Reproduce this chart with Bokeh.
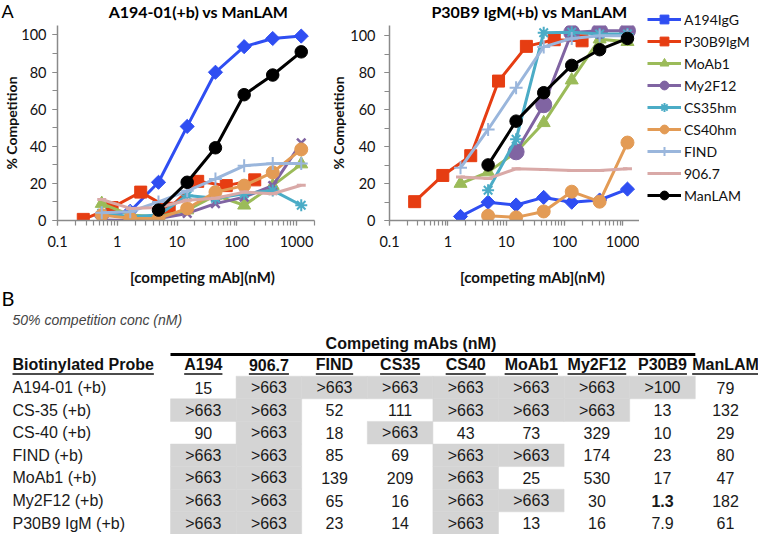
import math
from bokeh.plotting import figure
from bokeh.models import Range1d, FixedTicker, Legend, LegendItem, ColumnDataSource
from bokeh.layouts import column, row
from bokeh.embed import file_html
from bokeh.resources import INLINE
from bokeh.core.properties import value

NaN = float("nan")

# ---------------- data ----------------
series_names = ["A194IgG", "P30B9IgM", "MoAb1", "My2F12", "CS35hm", "CS40hm", "FIND", "906.7", "ManLAM"]

conc_dil = [0.55, 1.65, 4.9, 14.8, 44, 133, 400, 1200]       # nM, 3-fold dilutions
conc_p30 = [0.27, 0.82, 2.47, 7.4, 22.2, 66.7, 200]           # nM, P30B9IgM dilutions

# Panel A left: A194-01(+b) vs ManLAM  (% competition)
left_A194IgG = [2, 5, 20.6, 50.7, 79.9, 93.7, 98.1, 99.4]
left_P30B9IgM = [0.6, 7, 15.3, 6.6, 21.1, 18.8, 21.9]
left_MoAb1 = [9.1, 3, 2, 5.6, 13.5, 8.2, 18.8, 30.4]
left_My2F12 = [0.3, 0, 1, 3.8, 9.1, 12.6, 18.8, 41.8]
left_CS35hm = [4, 2, 3, 13.5, 12, 14.4, 16.2, 8.2]
left_CS40hm = [2.9, 1.2, 1, 6.5, 15.3, 18.8, 25.9, 38.3]
left_FIND = [4.2, 4.7, 10, 16, 22.4, 29.5, 30.7, 30.7]
left_9067 = [11.3, 6.5, 7, 10.9, 12, 15.3, 14.4, 19]
left_ManLAM = [NaN, NaN, 5.6, 20.6, 39.2, 67.8, 78.4, 90.9]

# Panel A right: P30B9 IgM(+b) vs ManLAM  (% competition)
right_A194IgG = [NaN, 2.2, 9.9, 8.4, 12.5, 9.9, 11.1, 17]
right_P30B9IgM = [10.2, 24.4, 35.1, 75.5, 94.3, 97.9, 97.3]
right_MoAb1 = [NaN, 20, 26.2, 37, 52.9, 76, 98.2, 96.8]
right_My2F12 = [NaN, NaN, NaN, 37.2, 62.7, 101.8, 102.7, 102.7]
right_CS35hm = [NaN, NaN, 16.4, 44, 101.7, 102, 101, 101]
right_CS40hm = [NaN, NaN, 2.6, 1.7, 4.9, 15.6, 10.2, 42.2]
right_FIND = [NaN, 28.5, 49.3, 71.9, 94, 98.6, 100, 100]
right_9067 = [NaN, 23.6, 22.7, 28, 27.6, 27.1, 27.1, 28]
right_ManLAM = [NaN, NaN, 30.1, 53.8, 69.2, 84, 92.5, 98.6]

x_tick_values = [0.1, 1, 10, 100, 1000]
x_tick_labels = ["0.1", "1", "10", "100", "1000"]
y_tick_values = [0, 20, 40, 60, 80, 100]

panel_titles = ["A194-01(+b) vs ManLAM", "P30B9 IgM(+b) vs ManLAM"]
x_title = "[competing mAb](nM)"
y_title = "% Competition"

# Panel B table
probes = ["A194-01 (+b)", "CS-35 (+b)", "CS-40 (+b)", "FIND (+b)", "MoAb1 (+b)", "My2F12 (+b)", "P30B9 IgM (+b)"]
competitors = ["A194", "906.7", "FIND", "CS35", "CS40", "MoAb1", "My2F12", "P30B9", "ManLAM"]
row_A194_01 = ["15", ">663", ">663", ">663", ">663", ">663", ">663", ">100", "79"]
row_CS35 = [">663", ">663", "52", "111", ">663", ">663", ">663", "13", "132"]
row_CS40 = ["90", ">663", "18", ">663", "43", "73", "329", "10", "29"]
row_FIND = [">663", ">663", "85", "69", ">663", ">663", "174", "23", "80"]
row_MoAb1 = [">663", ">663", "139", "209", ">663", "25", "530", "17", "47"]
row_My2F12 = [">663", ">663", "65", "16", ">663", ">663", "30", "1.3", "182"]
row_P30B9 = [">663", ">663", "23", "14", ">663", "13", "16", "7.9", "61"]
bold_cell = ("My2F12 (+b)", "P30B9")

# ---------------- styles ----------------
FONT = "Lato"
TFONT = "Liberation Sans"
styles = {
    "A194IgG":  dict(color="#2F4EF2", marker="square", size=10, angle=math.pi / 4, lw=1),
    "P30B9IgM": dict(color="#E63D12", marker="square", size=12, angle=0, lw=1),
    "MoAb1":    dict(color="#9BBB59", marker="triangle", size=13, angle=0, lw=1),
    "My2F12":   dict(color="#8064A2", marker="circle", size=16, angle=0, lw=1),
    "CS35hm":   dict(color="#4BACC6", marker="asterisk", size=12, angle=0, lw=2),
    "CS40hm":   dict(color="#E39B55", marker="circle", size=13, angle=0, lw=1),
    "FIND":     dict(color="#9AB6DC", marker="cross", size=13, angle=0, lw=2),
    "906.7":    dict(color="#D9A9A7", marker="dash", size=9, angle=0, lw=3),
    "ManLAM":   dict(color="#000000", marker="circle", size=12.5, angle=0, lw=1),
}
# in the left chart My2F12 is drawn with x markers
styles_left = dict(styles)
styles_left["My2F12"] = dict(color="#8064A2", marker="x", size=12, angle=0, lw=2.5)


def pixel_canvas(width, height, x0, x1, y_top, y_bottom):
    f = figure(width=width, height=height, x_range=Range1d(x0, x1), y_range=Range1d(y_bottom, y_top),
               output_backend="svg", toolbar_location=None, min_border=0)
    f.axis.visible = False
    f.grid.visible = False
    f.outline_line_color = None
    return f


def minor_log_ticks(lo_exp, hi_exp):
    return [m * 10 ** e for e in range(lo_exp, hi_exp) for m in range(1, 10)]


def make_panel(width, height, xr, yr, borders, tick_standoff, label_standoff):
    p = figure(width=width, height=height, x_axis_type="log",
               x_range=Range1d(*xr), y_range=Range1d(*yr),
               output_backend="svg", toolbar_location=None,
               min_border_left=borders[0], min_border_right=borders[1],
               min_border_top=borders[2], min_border_bottom=borders[3])
    p.outline_line_color = None
    p.xgrid.visible = False
    p.ygrid.visible = False
    for ax in (p.xaxis[0], p.yaxis[0]):
        ax.axis_line_color = "#8a8a8a"
        ax.axis_line_width = 1.5
        ax.major_tick_line_color = "#8a8a8a"
        ax.minor_tick_line_color = "#8a8a8a"
        ax.major_tick_line_width = 1.2
        ax.minor_tick_line_width = 1.2
        ax.major_tick_in = 0
        ax.major_tick_out = 5
        ax.minor_tick_in = 0
        ax.minor_tick_out = 5
        ax.major_label_text_font = FONT
        ax.major_label_text_font_size = "14.5px"
        ax.major_label_text_color = "#111111"
    p.xaxis[0].ticker = FixedTicker(ticks=x_tick_values, minor_ticks=minor_log_ticks(-1, 4))
    p.xaxis[0].major_label_overrides = {v: s for v, s in zip(x_tick_values, x_tick_labels)}
    p.xaxis[0].major_label_standoff = 10
    p.yaxis[0].ticker = FixedTicker(ticks=y_tick_values, minor_ticks=list(range(0, 101, 10)))
    p.yaxis[0].major_label_standoff = tick_standoff
    p.yaxis[0].axis_label = y_title
    p.yaxis[0].axis_label_text_font = FONT
    p.yaxis[0].axis_label_text_font_size = "14px"
    p.yaxis[0].axis_label_text_font_style = "bold"
    p.yaxis[0].axis_label_text_color = "#111111"
    p.yaxis[0].axis_label_standoff = label_standoff
    return p


def series_source(xs, ys):
    pts = [(x, y) for x, y in zip(xs, ys) if not (isinstance(y, float) and math.isnan(y))]
    return ColumnDataSource(dict(x=[a for a, b in pts], y=[b for a, b in pts]))


def draw_series(p, xs, ys, name, style_map):
    st = style_map[name]
    src = series_source(xs, ys)
    ln = p.line("x", "y", source=src, line_color=st["color"], line_width=3, line_join="round")
    sc = p.scatter("x", "y", source=src, marker=st["marker"], size=st["size"], angle=st["angle"],
                   fill_color=st["color"], line_color=st["color"], line_width=st["lw"])
    return [ln, sc]


# ---------------- header strip (panel letter + chart titles) ----------------
header = pixel_canvas(639, 22, 8, 647, 8, 30)
header.text([9], [18.5], text=["A"], text_font=value(FONT), text_font_size="18px",
            text_align="left", text_baseline="middle", text_color="#000000")
header.text([206, 537], [18.5, 18.5], text=panel_titles, text_font=value(FONT), text_font_size="16px",
            text_font_style="bold", text_align="center", text_baseline="middle", text_color="#000000")

# ---------------- panel A left ----------------
H_TOP = 240
p1 = make_panel(327, H_TOP, (0.1, 2000), (0, 105.1), (45, 13, 3, 39), 6, -2)
left_series = [left_A194IgG, left_P30B9IgM, left_MoAb1, left_My2F12, left_CS35hm,
               left_CS40hm, left_FIND, left_9067, left_ManLAM]
for name, ys in zip(series_names, left_series):
    xs = conc_p30 if name == "P30B9IgM" else conc_dil
    draw_series(p1, xs, ys, name, styles_left)

# ---------------- panel A right ----------------
p2 = make_panel(312, H_TOP, (0.1, 1930), (0, 105.6), (57, 0, 0, 42), 9, 0)
right_series = [right_A194IgG, right_P30B9IgM, right_MoAb1, right_My2F12, right_CS35hm,
                right_CS40hm, right_FIND, right_9067, right_ManLAM]
for name, ys in zip(series_names, right_series):
    xs = conc_p30 if name == "P30B9IgM" else conc_dil
    draw_series(p2, xs, ys, name, styles)

# ---------------- legend column (same series, legend only; data lie outside its view) ----------------
pleg = figure(width=119, height=262, x_axis_type="log", x_range=Range1d(0.1, 1930),
              y_range=Range1d(-300, -200), output_backend="svg", toolbar_location=None, min_border=0)
pleg.axis.visible = False
pleg.grid.visible = False
pleg.outline_line_color = None
items = []
for name, ys in zip(series_names, right_series):
    xs = conc_p30 if name == "P30B9IgM" else conc_dil
    rs = draw_series(pleg, xs, ys, name, styles)
    items.append(LegendItem(label=name, renderers=rs))
legend = Legend(items=items, location="top_left", orientation="vertical",
                glyph_width=34, glyph_height=22, spacing=0, padding=8, margin=8,
                label_standoff=3, label_text_font=FONT, label_text_font_size="14px",
                label_text_color="#111111", background_fill_alpha=0, border_line_color=None)
pleg.add_layout(legend, "center")

# ---------------- lower strip: x titles + panel B table ----------------
TOP, BOTTOM = 270, 542
p3 = pixel_canvas(758, BOTTOM - TOP, 8, 766, TOP, BOTTOM)
p3.text([210, 540], [284, 284], text=[x_title, x_title], text_font=value(FONT), text_font_size="15px",
        text_font_style="bold", text_align="center", text_baseline="middle", text_color="#111111")

COL0, COLW = 178, 65.6
ROW0, ROWH = 395, 22.6
col_centers = [COL0 + COLW * (i + 0.5) for i in range(len(competitors))]
col_centers[-1] = 733
row_centers = [ROW0 + ROWH * i for i in range(len(probes))]
table_rows = [row_A194_01, row_CS35, row_CS40, row_FIND, row_MoAb1, row_My2F12, row_P30B9]

gx, gy = [], []
tx, ty, tt, tw = [], [], [], []
for r, vals in enumerate(table_rows):
    for c, v in enumerate(vals):
        if v.startswith(">"):
            gx.append(col_centers[c]); gy.append(row_centers[r])
        tx.append(col_centers[c]); ty.append(row_centers[r]); tt.append(v)
        tw.append("bold" if (probes[r], competitors[c]) == bold_cell else "normal")
p3.rect(gx, gy, width=COLW, height=ROWH, fill_color="#D4D4D4", line_color="#D4D4D4", line_width=0.5)
p3.text(tx, ty, text=tt, text_font=value(TFONT), text_font_size="16px", text_align="center",
        text_baseline="middle", text_color="#1a1a1a", text_font_style=tw)
p3.text([20] * len(probes), row_centers, text=probes, text_font=value(TFONT), text_font_size="16px",
        text_align="left", text_baseline="middle", text_color="#1a1a1a")

# column headers (bold, underlined)
ARIAL_BOLD = {"A": 722, "B": 722, "C": 722, "D": 722, "F": 611, "I": 278, "L": 611, "M": 833, "N": 722,
              "P": 667, "S": 667, "a": 556, "b": 611, "d": 611, "e": 556, "i": 278, "l": 278, "n": 611,
              "o": 611, "r": 389, "t": 333, "y": 556, ".": 278, " ": 278}
def bold_width(s, px=16):
    return sum(ARIAL_BOLD.get(ch, 556) for ch in s) / 1000 * px

HEAD_Y = 372
hx = [20] + col_centers
ht = ["Biotinylated Probe"] + competitors
ha = ["left"] + ["center"] * len(competitors)
p3.text(hx, [HEAD_Y] * len(hx), text=ht, text_font=value(TFONT), text_font_size="16px",
        text_font_style="bold", text_align=ha, text_baseline="middle", text_color="#111111")
ux0, ux1 = [], []
for x, s, a in zip(hx, ht, ha):
    w = bold_width(s)
    x0 = x if a == "left" else x - w / 2
    ux0.append(x0); ux1.append(x0 + w)
p3.segment(ux0, [HEAD_Y + 9.5] * len(ux0), ux1, [HEAD_Y + 9.5] * len(ux0), line_color="#111111", line_width=1.5)

# group header
p3.segment([COL0], [362], [COL0 + COLW * 8], [362], line_color="#000000", line_width=3)
p3.text([(COL0 + COL0 + COLW * 8) / 2 - 22], [351], text=["Competing mAbs (nM)"], text_font=value(TFONT),
        text_font_size="16px", text_font_style="bold", text_align="center", text_baseline="middle",
        text_color="#111111")
p3.text([9], [305], text=["B"], text_font=value(FONT), text_font_size="20px", text_align="left",
        text_baseline="middle", text_color="#000000")
p3.text([20], [327], text=["50% competition conc (nM)"], text_font=value(TFONT), text_font_size="14px",
        text_font_style="italic", text_align="left", text_baseline="middle", text_color="#444444")

top_block = row(column(header, row(p1, p2)), pleg)
layout = column(top_block, p3)
open("out.html", "w").write(file_html(layout, INLINE))
